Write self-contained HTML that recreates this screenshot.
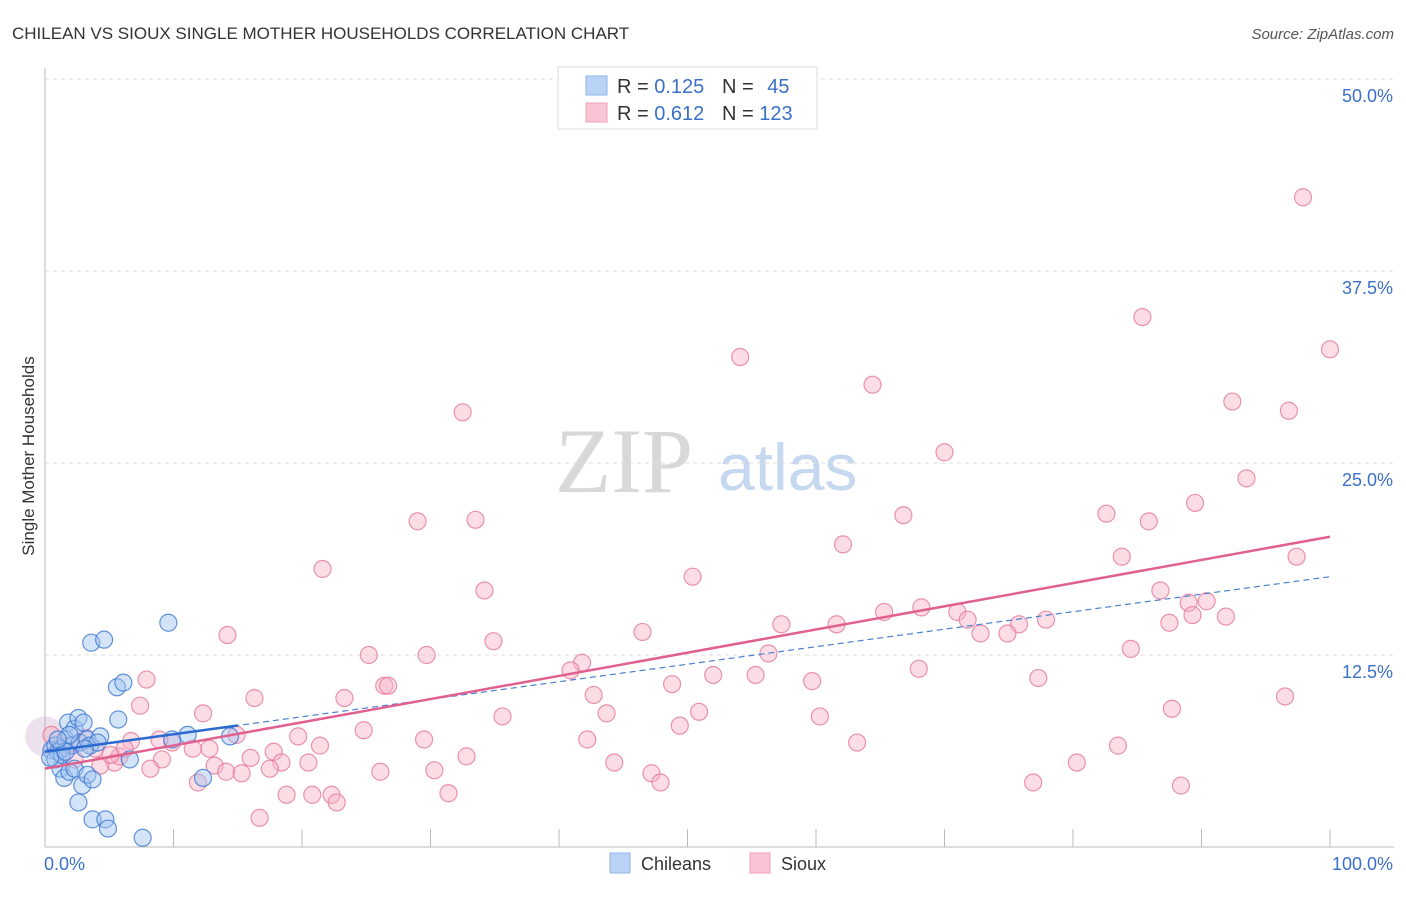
<!DOCTYPE html>
<html><head><meta charset="utf-8"><style>
body{margin:0;background:#fff;font-family:"Liberation Sans",sans-serif;}
</style></head><body>
<svg id="chart" width="1406" height="892" xmlns="http://www.w3.org/2000/svg" font-family="Liberation Sans, sans-serif">
<text x="12" y="39" font-size="17" fill="#333">CHILEAN VS SIOUX SINGLE MOTHER HOUSEHOLDS CORRELATION CHART</text>
<text x="1394" y="39" font-size="15" fill="#555" text-anchor="end" font-style="italic">Source: ZipAtlas.com</text>
<text x="34" y="456" font-size="17" fill="#333" text-anchor="middle" transform="rotate(-90 34 456)">Single Mother Households</text>
<text x="555" y="492" font-size="92" fill="#d8d8d8" font-family="Liberation Serif, serif">ZIP</text>
<text x="718" y="490" font-size="66" fill="#c5d8f0">atlas</text>
<g id="grid"></g><g id="pts"></g><g id="lines"></g>
<g>
<rect x="558" y="67" width="259" height="62" fill="#fff" stroke="#ddd"/>
<rect x="586" y="76" width="21" height="19" fill="#b8d3f5" stroke="#8fb5e8"/>
<rect x="586" y="103" width="21" height="19" fill="#f9c5d5" stroke="#eda0b8"/>
<text x="617" y="93" font-size="20" fill="#333">R = <tspan fill="#3a70c8">0.125</tspan></text>
<text x="722" y="93" font-size="20" fill="#333">N = <tspan fill="#3a70c8" dx="8">45</tspan></text>
<text x="617" y="120" font-size="20" fill="#333">R = <tspan fill="#3a70c8">0.612</tspan></text>
<text x="722" y="120" font-size="20" fill="#333">N = <tspan fill="#3a70c8">123</tspan></text>
</g>
<g>
<rect x="610" y="853" width="20" height="20" fill="#b8d3f5" stroke="#8fb5e8"/>
<text x="641" y="870" font-size="18" fill="#333">Chileans</text>
<rect x="750" y="853" width="20" height="20" fill="#f9c5d5" stroke="#eda0b8"/>
<text x="781" y="870" font-size="18" fill="#333">Sioux</text>
</g>
</svg>
<script>
const blueX=[0.5,0.8,1.0,1.3,1.6,1.8,2.1,2.3,2.6,2.7,3.0,3.3,3.5,1.2,1.5,1.9,2.3,2.6,2.9,3.3,3.7,3.7,4.7,4.9,7.6,3.6,4.6,5.6,6.1,5.7,4.3,4.1,6.6,9.6,9.9,11.1,12.3,14.4,0.8,1.3,0.4,1.6,3.1,1.9,1.0];
const blueY=[6.3,6.6,6.2,6.4,7.0,8.1,6.6,7.7,8.4,6.8,8.1,7.0,6.6,5.1,4.5,4.9,5.1,2.9,4.0,4.7,4.4,1.8,1.8,1.2,0.6,13.3,13.5,10.4,10.7,8.3,7.2,6.8,5.7,14.6,7.0,7.3,4.5,7.2,5.7,6.0,5.8,6.2,6.4,7.3,7.0];
const pinkX=[97.9,100,85.4,54.1,64.4,32.5,92.4,96.8,70.0,93.5,29.0,33.5,66.8,82.6,85.9,89.5,62.1,83.8,97.4,21.6,50.4,34.2,86.8,89.0,90.4,68.2,65.3,71.0,71.8,89.3,91.9,77.9,75.8,87.5,57.3,61.6,46.5,14.2,34.9,72.8,74.9,84.5,25.2,29.7,56.3,41.8,40.9,68.0,7.9,52.0,55.3,48.8,59.7,77.3,26.4,26.7,16.3,23.3,42.7,7.4,96.5,12.3,35.6,43.7,50.9,87.7,60.3,24.8,49.4,14.9,19.7,29.5,42.2,63.2,83.5,9.9,8.9,6.7,11.5,12.8,21.4,17.8,16.0,18.4,20.5,32.8,9.1,5.4,4.3,5.8,13.2,8.2,14.1,15.3,17.5,26.1,30.3,44.3,47.2,47.9,80.3,11.9,18.8,20.8,22.3,22.7,31.4,76.9,88.4,16.7,1.9,2.7,3.9,1.2,6.2,3.2,5.1,0.5,2.3];
const pinkY=[42.3,32.4,34.5,31.9,30.1,28.3,29.0,28.4,25.7,24.0,21.2,21.3,21.6,21.7,21.2,22.4,19.7,18.9,18.9,18.1,17.6,16.7,16.7,15.9,16.0,15.6,15.3,15.3,14.8,15.1,15.0,14.8,14.5,14.6,14.5,14.5,14.0,13.8,13.4,13.9,13.9,12.9,12.5,12.5,12.6,12.0,11.5,11.6,10.9,11.2,11.2,10.6,10.8,11.0,10.5,10.5,9.7,9.7,9.9,9.2,9.8,8.7,8.5,8.7,8.8,9.0,8.5,7.6,7.9,7.3,7.2,7.0,7.0,6.8,6.6,6.8,7.0,6.9,6.4,6.4,6.6,6.2,5.8,5.5,5.5,5.9,5.7,5.5,5.3,5.9,5.3,5.1,4.9,4.8,5.1,4.9,5.0,5.5,4.8,4.2,5.5,4.2,3.4,3.4,3.4,2.9,3.5,4.2,4.0,1.9,6.6,6.8,6.4,6.4,6.4,7.1,6.0,7.3,5.7];
const yTicks=[12.5,25.0,37.5,50.0];
const blueFit=[6.2,17.6];
const pinkFit=[5.1,20.2];
const NS="http://www.w3.org/2000/svg";
const xs=v=>45+v*12.85, ys=v=>847-v*15.36;
function mk(t,a,p){const e=document.createElementNS(NS,t);for(const k in a)e.setAttribute(k,a[k]);p.appendChild(e);return e;}
const grid=document.getElementById('grid');
yTicks.forEach(t=>{
 const l=mk('line',{x1:45,x2:1394,y1:ys(t),y2:ys(t),stroke:'#ddd','stroke-dasharray':'4,4'},grid);
 
 
 const tx=mk('text',{x:1393,y:ys(t)+23,'font-size':18,fill:'#3a70c8','text-anchor':'end'},grid);
 tx.textContent=t.toFixed(1)+'%';
 
 
});
mk('line',{x1:45,x2:45,y1:68,y2:847,stroke:'#bbb'},grid);
mk('line',{x1:45,x2:1394,y1:847,y2:847,stroke:'#bbb'},grid);
for(let i=1;i<=10;i++){mk('line',{x1:45+i*128.5,x2:45+i*128.5,y1:829,y2:847,stroke:'#bbb'},grid);}
const x0=mk('text',{x:44,y:870,'font-size':18,fill:'#3a70c8'},grid);x0.textContent='0.0%';


const x1=mk('text',{x:1393,y:870,'font-size':18,fill:'#3a70c8','text-anchor':'end'},grid);x1.textContent='100.0%';


const pts=document.getElementById('pts');
const bg=mk('circle',{cx:45,cy:ys(7.2),r:20,fill:'rgba(200,170,200,0.35)'},pts);


pinkX.forEach((x,i)=>{const c=mk('circle',{cx:xs(x),cy:ys(pinkY[i]),r:8.5,fill:'rgba(248,180,200,0.45)',stroke:'rgba(230,120,155,0.8)','stroke-width':1.2},pts);
 
 });
blueX.forEach((x,i)=>{const c=mk('circle',{cx:xs(x),cy:ys(blueY[i]),r:8.5,fill:'rgba(160,195,240,0.45)',stroke:'rgba(60,120,210,0.8)','stroke-width':1.2},pts);
 
 });
const lines=document.getElementById('lines');
const at=(f,x)=>f[0]+(f[1]-f[0])*x/100;
const bd=mk('line',{x1:xs(0),y1:ys(at(blueFit,0)),x2:xs(100),y2:ys(at(blueFit,100)),stroke:'#4a80d0','stroke-width':1.2,'stroke-dasharray':'6,4'},lines);


const pl=mk('line',{x1:xs(0),y1:ys(at(pinkFit,0)),x2:xs(100),y2:ys(at(pinkFit,100)),stroke:'#e06090','stroke-width':2.5},lines);


const bl=mk('line',{x1:xs(0),y1:ys(at(blueFit,0)),x2:xs(15),y2:ys(at(blueFit,15)),stroke:'#2a6ad0','stroke-width':2.5},lines);


</script>
</body></html>
